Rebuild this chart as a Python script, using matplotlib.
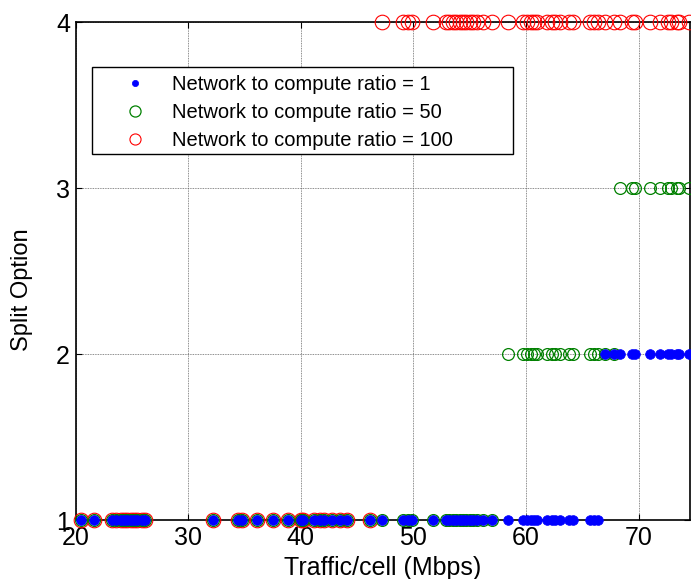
import matplotlib
matplotlib.use("Agg")
import matplotlib.pyplot as plt
from matplotlib.patches import Rectangle

plt.rcParams['font.family'] = ['Liberation Sans', 'DejaVu Sans']

traffic = [
    20.5, 21.6, 23.2, 23.6, 24.0, 24.3, 24.6, 24.9, 25.2, 25.5, 25.9, 26.2,
    32.2, 34.4, 34.8, 36.1, 37.5, 38.9, 40.0, 40.2, 41.2, 41.7, 42.1, 42.8, 43.5, 44.1, 46.1,
    47.2, 49.1, 49.5, 49.9, 51.7, 52.9, 53.2, 53.5, 53.8, 54.1, 54.4, 54.7, 55.0, 55.3, 55.6, 56.2, 57.0,
    58.4, 59.7, 60.1, 60.4, 60.7, 61.0, 61.9, 62.3, 62.6, 63.0, 63.8, 64.2, 65.7, 66.0, 66.4,
    67.0, 67.8,
    68.3, 69.4, 69.7, 71.0, 71.9, 72.6, 72.9, 73.4, 73.6, 74.5,
]

split_ratio1 = [
    1, 1, 1, 1, 1, 1, 1, 1, 1, 1, 1, 1,
    1, 1, 1, 1, 1, 1, 1, 1, 1, 1, 1, 1, 1, 1, 1,
    1, 1, 1, 1, 1, 1, 1, 1, 1, 1, 1, 1, 1, 1, 1, 1, 1,
    1, 1, 1, 1, 1, 1, 1, 1, 1, 1, 1, 1, 1, 1, 1,
    2, 2,
    2, 2, 2, 2, 2, 2, 2, 2, 2, 2,
]

split_ratio50 = [
    1, 1, 1, 1, 1, 1, 1, 1, 1, 1, 1, 1,
    1, 1, 1, 1, 1, 1, 1, 1, 1, 1, 1, 1, 1, 1, 1,
    1, 1, 1, 1, 1, 1, 1, 1, 1, 1, 1, 1, 1, 1, 1, 1, 1,
    2, 2, 2, 2, 2, 2, 2, 2, 2, 2, 2, 2, 2, 2, 2,
    2, 2,
    3, 3, 3, 3, 3, 3, 3, 3, 3, 3,
]

split_ratio100 = [
    1, 1, 1, 1, 1, 1, 1, 1, 1, 1, 1, 1,
    1, 1, 1, 1, 1, 1, 1, 1, 1, 1, 1, 1, 1, 1, 1,
    4, 4, 4, 4, 4, 4, 4, 4, 4, 4, 4, 4, 4, 4, 4, 4, 4,
    4, 4, 4, 4, 4, 4, 4, 4, 4, 4, 4, 4, 4, 4, 4,
    4, 4,
    4, 4, 4, 4, 4, 4, 4, 4, 4, 4,
]

labels = ["Network to compute ratio = 1",
          "Network to compute ratio = 50",
          "Network to compute ratio = 100"]
x_ticks = [20, 30, 40, 50, 60, 70]
y_ticks = [1, 2, 3, 4]

W, H = 691, 579
fig = plt.figure(figsize=(W / 100, H / 100), dpi=100)
ax = fig.add_axes([75.5 / W, 1 - 520 / H, (690 - 75.5) / W, (520 - 22) / H])

h100, = ax.plot(traffic, split_ratio100, linestyle='none', marker='o', ms=10.5,
                mfc='none', mec=(1, 0, 0), mew=0.8, clip_on=False, zorder=3)
h50, = ax.plot(traffic, split_ratio50, linestyle='none', marker='o', ms=8.5,
               mfc='none', mec=(0, 0.5, 0), mew=0.9, clip_on=False, zorder=4)
h1, = ax.plot(traffic, split_ratio1, linestyle='none', marker='o', ms=7,
              mfc=(0, 0, 1), mec=(0, 0, 1), mew=0.5, clip_on=False, zorder=5)

ax.set_xlim(20, 74.55)
ax.set_ylim(1, 4)
ax.set_xticks(x_ticks)
ax.set_yticks(y_ticks)
ax.tick_params(direction='in', labelsize=18, length=4, width=0.8, pad=4,
               top=True, right=True)
ax.grid(True, linestyle=(0, (1, 1)), color='#666666', linewidth=0.6)
for s in ax.spines.values():
    s.set_linewidth(1.2)
    s.set_color('black')

ax.set_xlabel("Traffic/cell (Mbps)", fontsize=18, labelpad=5)
ax.set_ylabel("Split Option", fontsize=17)
ax.yaxis.set_label_coords((33 - 75.5) / 614.5, (520 - 290) / 498)

# legend frame
fig.patches.append(Rectangle((92 / W, 1 - 154 / H), (513 - 92) / W, (154 - 67) / H,
                             transform=fig.transFigure, facecolor='white',
                             edgecolor='black', linewidth=1.0, zorder=9))

leg = fig.legend([h1, h50, h100], labels, loc='upper left',
                 bbox_to_anchor=(105 / W, 1 - 75 / H), bbox_transform=fig.transFigure,
                 fontsize=14.5, frameon=False, borderpad=0, labelspacing=0.45,
                 handlelength=3.0, handletextpad=0.35, borderaxespad=0)
leg.set_zorder(10)
lh = leg.legend_handles
lh[0].set_markersize(4.5)
lh[1].set_markersize(8)
lh[2].set_markersize(8)

fig.savefig("out.png", dpi=100)
